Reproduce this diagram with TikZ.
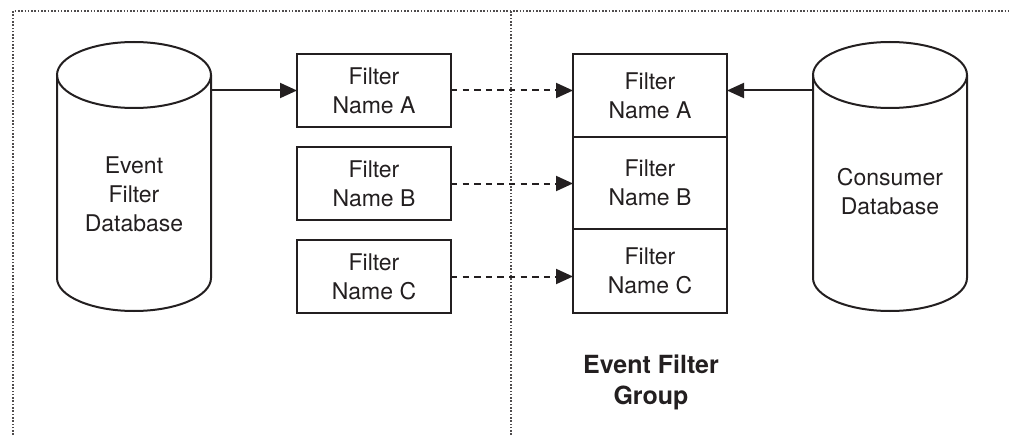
\documentclass[tikz,border=0pt]{standalone}
\usepackage{fontspec}
\setmainfont{TeX Gyre Heros}
\usetikzlibrary{arrows.meta}
\usetikzlibrary{positioning}

\begin{document}
\begin{tikzpicture}[x=0.5pt,y=0.5pt,node distance=10pt]
                \definecolor{inkcolor}{RGB}{35,31,32}
                \tikzset{
                    filterbox/.style={draw=inkcolor, line width=1pt, minimum width=77pt, inner sep=0pt, outer sep=0pt, align=center, text=inkcolor, font=\fontsize{11.5}{14.5}\selectfont},
                    dbbody/.style={minimum width=77pt, minimum height=101.5pt, inner sep=0pt, outer sep=0pt},
                    dbtext/.style={align=center, text=inkcolor, font=\fontsize{11.5}{14.5}\selectfont},
                    dbline/.style={draw=inkcolor, line width=1pt},
                    feed/.style={draw=inkcolor, line width=1pt, -{Triangle[length=8.5pt,width=7.5pt]}},
                    copyfeed/.style={feed, dash pattern=on 3.2pt off 2.6pt},
                    frame/.style={draw=inkcolor!80, line width=0.8pt, dash pattern=on 0.8pt off 0.85pt}
                }
                
                \useasboundingbox (0,0) rectangle (1009,435);
                
                % dotted frame and divider
                \draw[frame] (13,0) -- (13,424) -- (1009,424);
                \draw[frame] (511,0) -- (511,424);
                
                % databases
                \node[dbbody] (efdb) at (134,258.5) {};
                \node[dbbody] (cdb) at (890,258.5) {};
                
                \draw[dbline] (efdb.north west) -- (efdb.south west) arc[start angle=180, end angle=360, x radius=77, y radius=33] -- (efdb.north east);
                \draw[dbline] (efdb.north) ellipse [x radius=77, y radius=33];
                \draw[dbline] (cdb.north west) -- (cdb.south west) arc[start angle=180, end angle=360, x radius=77, y radius=33] -- (cdb.north east);
                \draw[dbline] (cdb.north) ellipse [x radius=77, y radius=33];
                
                \node[dbtext] (efdbtext) at ([yshift=-9pt]efdb.center) {Event\\Filter\\Database};
                \node[dbtext] (cdbtext) at ([yshift=-7.5pt]cdb.center) {Consumer\\Database};
                
                % filters
                \node[filterbox, minimum height=36.5pt] (fA) at (374,344.5) {Filter\\Name A};
                \node[filterbox, minimum height=36.5pt, below=of fA] (fB) {Filter\\Name B};
                \node[filterbox, minimum height=36.5pt, below=of fB] (fC) {Filter\\Name C};
                
                % event filter group
                \node[filterbox, minimum height=41.5pt] (gA) at (650,339.5) {Filter\\Name A};
                \node[filterbox, minimum height=46pt, below=0pt of gA] (gB) {Filter\\Name B};
                \node[filterbox, minimum height=42pt, below=0pt of gB] (gC) {Filter\\Name C};
                
                \node[align=center, text=inkcolor, font=\fontsize{12.5}{15.5}\selectfont\bfseries] (grp) at (651,53) {Event Filter\\Group};
                
                % connectors
                \draw[feed] (efdb.east |- fA.west) -- (fA.west);
                \draw[copyfeed] (fA.east) -- (gA.west |- fA.east);
                \draw[copyfeed] (fB.east) -- (gB.west |- fB.east);
                \draw[copyfeed] (fC.east) -- (gC.west |- fC.east);
                \draw[feed] (cdb.west |- fA.east) -- (gA.east |- fA.east);
            \end{tikzpicture}
\end{document}
